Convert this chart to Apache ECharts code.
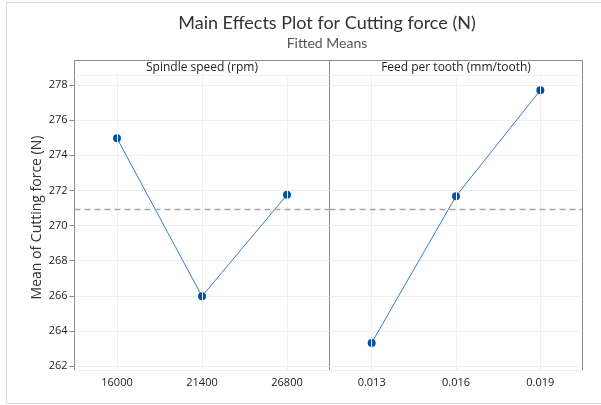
<!DOCTYPE html>
<html>
<head>
<meta charset="utf-8">
<script src="https://cdn.jsdelivr.net/npm/echarts@6/dist/echarts.min.js"></script>
<style>
  html, body { margin: 0; padding: 0; background: #fff; }
  #main { width: 601px; height: 405px; }
</style>
</head>
<body>
<div id="main"></div>
<script>
// values
const spindleSpeeds = ['16000', '21400', '26800'];
const spindleMeans = [274.96, 265.98, 271.75];
const feedRates = ['0.013', '0.016', '0.019'];
const feedMeans = [263.33, 271.67, 277.69];
const grandMean = 270.9;
const yMin = 261.76;
const yMax = 278.53;

const font = 'Open Sans';
const frame = '#8a8a8a';
const gridColor = '#efefef';

const chartDom = document.getElementById('main');
const myChart = echarts.init(chartDom);

function xAxisFor(idx, cats) {
  return {
    type: 'category',
    gridIndex: idx,
    data: cats,
    boundaryGap: true,
    axisLine: { show: false },
    axisTick: { show: false },
    splitLine: { show: false },
    axisLabel: { color: '#222', fontFamily: font, fontSize: 11, margin: 7 }
  };
}

function yAxisFor(idx) {
  return {
    type: 'value',
    gridIndex: idx,
    min: yMin,
    max: yMax,
    splitNumber: 8,
    axisLine: { show: false },
    axisTick: { show: idx === 0, length: 5, lineStyle: { color: frame } },
    axisLabel: {
      show: idx === 0, color: '#222', fontFamily: font, fontSize: 11, margin: 7,
      showMinLabel: false, showMaxLabel: false
    },
    splitLine: { lineStyle: { color: gridColor, width: 1 } },
    name: idx === 0 ? 'Mean of Cutting force (N)' : '',
    nameLocation: 'middle',
    nameGap: 30,
    nameTextStyle: { color: '#333', fontFamily: font, fontSize: 14, padding: [0, 0, 0, 11] }
  };
}

function seriesFor(idx, cats, vals) {
  return {
    type: 'line',
    xAxisIndex: idx,
    yAxisIndex: idx,
    data: vals,
    symbol: 'circle',
    symbolSize: 8,
    itemStyle: { color: '#0054a6' },
    lineStyle: { color: '#3a7bd0', width: 1 },
    emphasis: { disabled: true },
    markLine: {
      silent: true,
      symbol: 'none',
      label: { show: false },
      animation: false,
      data: [
        ...cats.map(c => ({ xAxis: c, lineStyle: { color: gridColor, type: 'solid', width: 1 } })),
        { yAxis: grandMean, lineStyle: { color: '#a6a6a6', type: [6, 4], width: 1.3 } }
      ]
    }
  };
}

const option = {
  backgroundColor: '#fff',
  animation: false,
  title: {
    text: 'Main Effects Plot for Cutting force (N)',
    subtext: 'Fitted Means',
    left: 327,
    textAlign: 'center',
    top: 14,
    padding: 0,
    itemGap: 4,
    textStyle: { color: '#333', fontFamily: 'Lato', fontSize: 18, fontWeight: 'normal' },
    subtextStyle: { color: '#555', fontFamily: 'Lato', fontSize: 14 }
  },
  grid: [
    { left: 74.5, top: 75.5, width: 255, height: 295, show: true, borderColor: frame, borderWidth: 1, backgroundColor: 'transparent' },
    { left: 329.5, top: 75.5, width: 253, height: 295, show: true, borderColor: frame, borderWidth: 1, backgroundColor: 'transparent' }
  ],
  xAxis: [xAxisFor(0, spindleSpeeds), xAxisFor(1, feedRates)],
  yAxis: [yAxisFor(0), yAxisFor(1)],
  series: [seriesFor(0, spindleSpeeds, spindleMeans), seriesFor(1, feedRates, feedMeans)],
  graphic: [
    { type: 'rect', silent: true, shape: { x: 6.5, y: 2.5, width: 600, height: 401 }, style: { fill: 'none', stroke: '#dadada', lineWidth: 1 } },
    { type: 'rect', silent: true, shape: { x: 74.5, y: 60.5, width: 255, height: 15 }, style: { fill: '#fff', stroke: frame, lineWidth: 1 } },
    { type: 'rect', silent: true, shape: { x: 329.5, y: 60.5, width: 253, height: 15 }, style: { fill: '#fff', stroke: frame, lineWidth: 1 } },
    { type: 'text', silent: true, x: 202, y: 68, style: { text: 'Spindle speed (rpm)', fill: '#222', font: '12px "Open Sans"', align: 'center', verticalAlign: 'middle' } },
    { type: 'text', silent: true, x: 456, y: 68, style: { text: 'Feed per tooth (mm/tooth)', fill: '#222', font: '12px "Open Sans"', align: 'center', verticalAlign: 'middle' } }
  ]
};

option && myChart.setOption(option);
</script>
</body>
</html>
